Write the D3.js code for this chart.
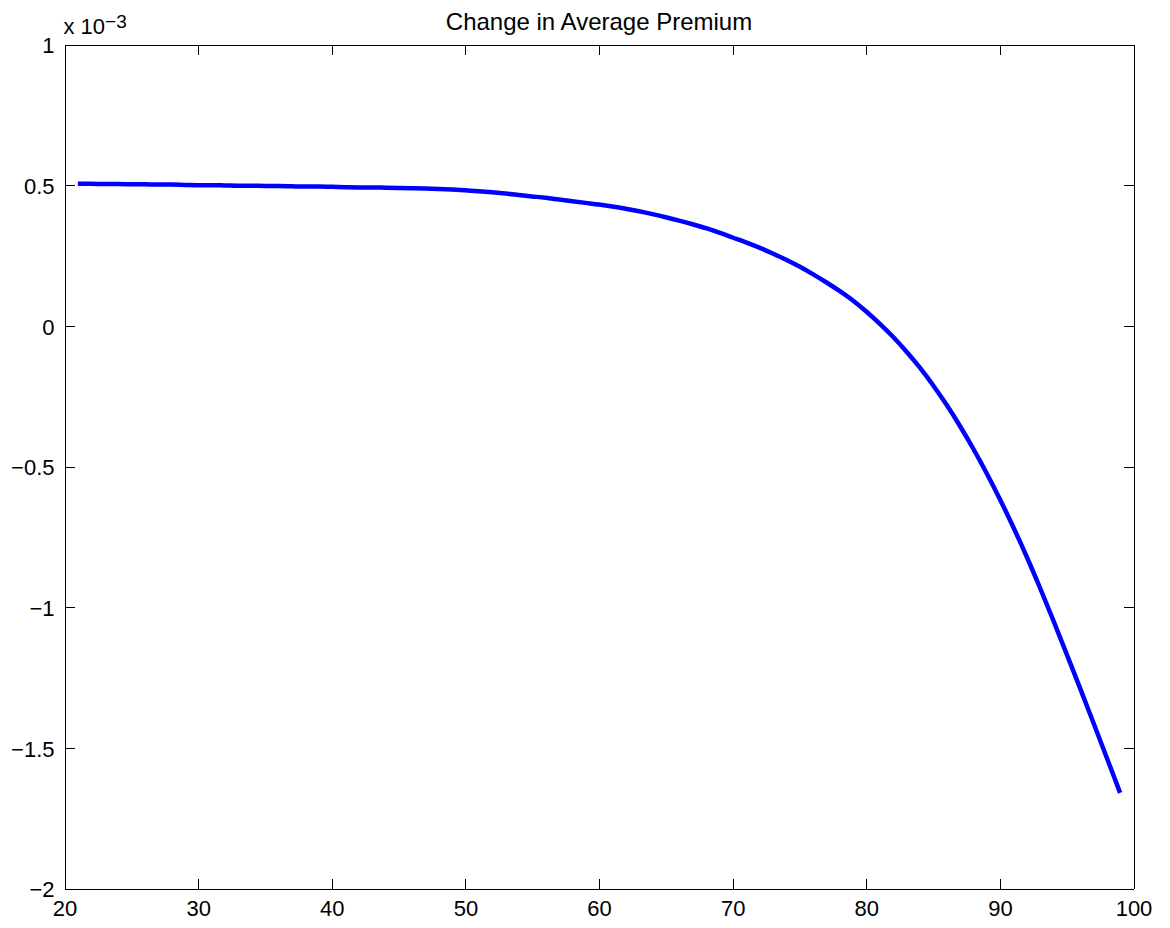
<!DOCTYPE html>
<html>
<head>
<meta charset="utf-8">
<script src="https://cdn.jsdelivr.net/npm/d3@7"></script>
<style>
  html, body { margin: 0; padding: 0; background: #fff; }
  svg { display: block; }
  text { font-family: "Liberation Sans", Arial, Helvetica, sans-serif; fill: #000; }
</style>
</head>
<body>
<svg id="chart" width="1170" height="928"></svg>
<script>
// Age (years) and change in average premium (units of 1e-3)
const ages = [21,22,23,24,25,26,27,28,29,30,31,32,33,34,35,36,37,38,39,40,
  41,42,43,44,45,46,47,48,49,50,51,52,53,54,55,56,57,58,59,60,
  61,62,63,64,65,66,67,68,69,70,71,72,73,74,75,76,77,78,79,80,
  81,82,83,84,85,86,87,88,89,90,91,92,93,94,95,96,97,98,99];
const premiumChange = [0.505,0.505,0.504,0.504,0.503,0.503,0.502,0.502,0.501,0.500,
  0.500,0.499,0.498,0.498,0.497,0.497,0.496,0.495,0.495,0.494,
  0.493,0.492,0.492,0.491,0.490,0.489,0.488,0.4865,0.4845,0.482,
  0.4785,0.4745,0.470,0.465,0.460,0.455,0.449,0.443,0.437,0.431,
  0.424,0.416,0.407,0.397,0.386,0.374,0.361,0.347,0.331,0.314,
  0.297,0.278,0.257,0.235,0.211,0.184,0.155,0.124,0.090,0.051,
  0.008,-0.039,-0.091,-0.148,-0.211,-0.280,-0.355,-0.436,-0.523,-0.616,
  -0.715,-0.820,-0.931,-1.047,-1.167,-1.288,-1.411,-1.535,-1.660];

const xTicks = [20,30,40,50,60,70,80,90,100];
const yTicks = [-2,-1.5,-1,-0.5,0,0.5,1];
const titleText = "Change in Average Premium";

const svg = d3.select("#chart");
const plotLeft = 64.5, plotRight = 1133.5, plotTop = 44.5, plotBottom = 888.5;

const x = d3.scaleLinear().domain([20, 100]).range([plotLeft, plotRight]);
const y = d3.scaleLinear().domain([-2, 1]).range([plotBottom, plotTop]);

const fmt = v => String(v).replace("-", "\u2212");

// curve
const line = d3.line()
  .x((d, i) => x(ages[i]))
  .y(d => y(d))
  .curve(d3.curveMonotoneX);

svg.append("path")
  .datum(premiumChange)
  .attr("d", line)
  .attr("fill", "none")
  .attr("stroke", "#0000ff")
  .attr("stroke-width", 4.5)
  .attr("stroke-linejoin", "round");

// axes with inward ticks on all four sides
const fontSize = 22;
const gB = svg.append("g").attr("transform", `translate(0,${plotBottom})`)
  .call(d3.axisBottom(x).tickValues(xTicks).tickFormat(fmt).tickSizeInner(-10).tickSizeOuter(0).tickPadding(12));
const gT = svg.append("g").attr("transform", `translate(0,${plotTop})`)
  .call(d3.axisTop(x).tickValues(xTicks).tickFormat("").tickSizeInner(-10).tickSizeOuter(0));
const gL = svg.append("g").attr("transform", `translate(${plotLeft},0)`)
  .call(d3.axisLeft(y).tickValues(yTicks).tickFormat(fmt).tickSizeInner(-10).tickSizeOuter(0).tickPadding(10));
const gR = svg.append("g").attr("transform", `translate(${plotRight},0)`)
  .call(d3.axisRight(y).tickValues(yTicks).tickFormat("").tickSizeInner(-10).tickSizeOuter(0));

[gB, gT, gL, gR].forEach(g => {
  g.select(".domain").attr("stroke", "#000").attr("stroke-width", 1).attr("shape-rendering", "crispEdges");
  g.selectAll(".tick line").attr("stroke", "#000").attr("stroke-width", 1).attr("shape-rendering", "crispEdges");
  g.selectAll("text").attr("font-size", fontSize).attr("font-family", '"Liberation Sans", Arial, sans-serif').attr("fill", "#000");
});
gL.selectAll("text").attr("dy", "0.38em");

// exponent label
const expo = svg.append("text")
  .attr("x", plotLeft - 1)
  .attr("y", 34)
  .attr("font-size", fontSize);
expo.append("tspan").text("x 10");
expo.append("tspan").attr("font-size", 19).attr("dy", -6).text("\u22123");

// title
svg.append("text")
  .attr("x", (plotLeft + plotRight) / 2)
  .attr("y", 29.5)
  .attr("text-anchor", "middle")
  .attr("font-size", 24)
  .text(titleText);
</script>
</body>
</html>
